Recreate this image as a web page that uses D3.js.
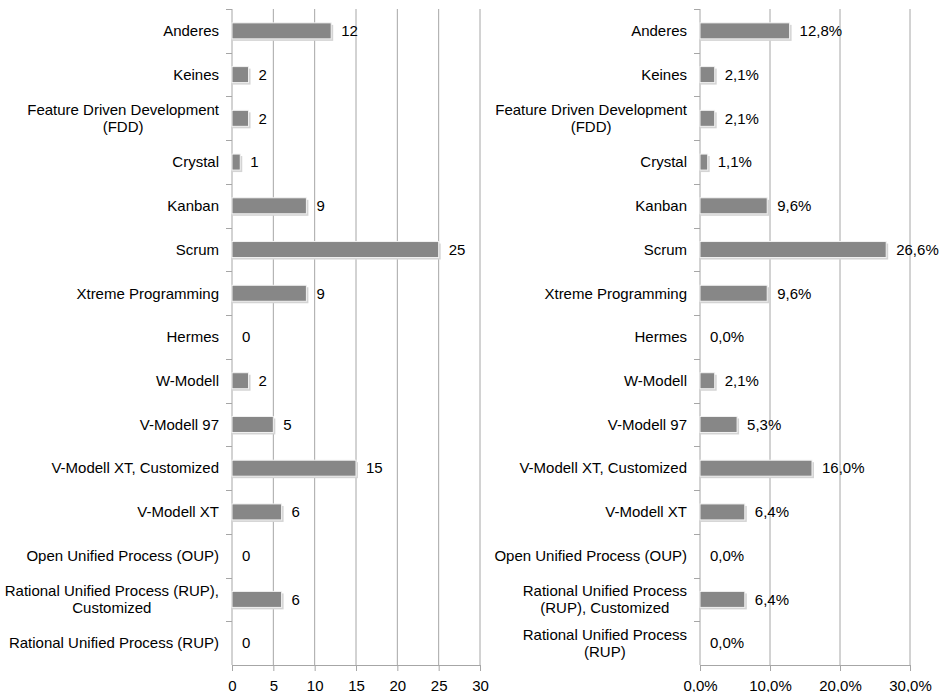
<!DOCTYPE html>
<meta charset="utf-8">
<title>Vorgehensmodelle</title>
<style>
body { margin: 0; background: #fff; }
svg { font-family: "Liberation Sans", Arial, sans-serif; }
.grid line { stroke: #a6a6a6; stroke-width: 1; }
.axis path, .axis line { stroke: #a6a6a6; }
.axis text { font-size: 15px; fill: #000; }
.cat { font-size: 15px; fill: #000; }
.val { font-size: 15px; fill: #000; }
</style>
<script src="https://d3js.org/d3.v7.min.js"></script>
<body>
<script>
// categories, top to bottom
var catsLeft = [
  ["Anderes"], ["Keines"], ["Feature Driven Development", "(FDD)"], ["Crystal"],
  ["Kanban"], ["Scrum"], ["Xtreme Programming"], ["Hermes"], ["W-Modell"],
  ["V-Modell 97"], ["V-Modell XT, Customized"], ["V-Modell XT"],
  ["Open Unified Process (OUP)"], ["Rational Unified Process (RUP),", "Customized"],
  ["Rational Unified Process (RUP)"]
];
var catsRight = [
  ["Anderes"], ["Keines"], ["Feature Driven Development", "(FDD)"], ["Crystal"],
  ["Kanban"], ["Scrum"], ["Xtreme Programming"], ["Hermes"], ["W-Modell"],
  ["V-Modell 97"], ["V-Modell XT, Customized"], ["V-Modell XT"],
  ["Open Unified Process (OUP)"], ["Rational Unified Process", "(RUP), Customized"],
  ["Rational Unified Process", "(RUP)"]
];
var counts = [12, 2, 2, 1, 9, 25, 9, 0, 2, 5, 15, 6, 0, 6, 0];
var percents = [12.8, 2.1, 2.1, 1.1, 9.6, 26.6, 9.6, 0.0, 2.1, 5.3, 16.0, 6.4, 0.0, 6.4, 0.0];
var countTicks = [0, 5, 10, 15, 20, 25, 30];
var percentTicks = [0, 10, 20, 30];

var width = 944, height = 692;
var svg = d3.select("body").append("svg")
    .attr("width", width)
    .attr("height", height);

var plotTop = 9, plotBottom = 665;
var fmtPct = function(v) { return v.toFixed(1).replace(".", ",") + "%"; };
var fmtNum = function(v) { return String(v); };

function drawPanel(x0, x1, cats, values, ticks, maxV, labelFmt) {
  var g = svg.append("g");
  var x = d3.scaleLinear().domain([0, maxV]).range([x0, x1]);
  var y = d3.scaleBand().domain(d3.range(cats.length)).range([plotTop, plotBottom]);

  // vertical grid lines
  g.append("g").attr("class", "grid")
    .selectAll("line").data(ticks.slice(1)).enter().append("line")
      .attr("x1", function(d) { return x(d); })
      .attr("x2", function(d) { return x(d); })
      .attr("y1", plotTop).attr("y2", plotBottom);

  // x axis
  var xa = g.append("g").attr("class", "axis")
    .attr("transform", "translate(0," + plotBottom + ")")
    .call(d3.axisBottom(x).tickValues(ticks).tickSize(6).tickSizeOuter(0).tickFormat(labelFmt));
  xa.selectAll("text").attr("dy", "1.1em");

  // y axis line + ticks at row boundaries
  g.append("line").attr("x1", x0).attr("x2", x0).attr("y1", plotTop).attr("y2", plotBottom)
    .attr("stroke", "#a6a6a6");
  g.selectAll("line.ytick").data(d3.range(cats.length)).enter().append("line")
    .attr("class", "ytick")
    .attr("x1", x0 - 6).attr("x2", x0)
    .attr("y1", function(d) { return Math.round(y(d)) + 0.5; })
    .attr("y2", function(d) { return Math.round(y(d)) + 0.5; })
    .attr("stroke", "#a6a6a6");

  var bh = 16;
  // bar shadows
  g.selectAll("rect.shadow").data(values).enter().append("rect")
    .attr("class", "shadow")
    .attr("x", x0 + 1)
    .attr("y", function(d, i) { return y(i) + y.bandwidth() / 2 - bh / 2 + 2; })
    .attr("width", function(d) { return d > 0 ? x(d) - x0 + 1 : 0; })
    .attr("height", bh)
    .attr("fill", "#d4d4d4");
  // bars
  g.selectAll("rect.bar").data(values).enter().append("rect")
    .attr("class", "bar")
    .attr("x", x0)
    .attr("y", function(d, i) { return y(i) + y.bandwidth() / 2 - bh / 2; })
    .attr("width", function(d) { return d > 0 ? x(d) - x0 : 0; })
    .attr("height", bh)
    .attr("fill", "#878787")
    .attr("stroke", "#f2f2f2")
    .attr("stroke-width", 1);

  // value labels
  g.selectAll("text.val").data(values).enter().append("text")
    .attr("class", "val")
    .attr("x", function(d) { return x(d) + 10; })
    .attr("y", function(d, i) { return y(i) + y.bandwidth() / 2; })
    .attr("dy", "0.35em")
    .text(function(d) { return labelFmt(d); });

  // category labels
  var lab = g.selectAll("text.cat").data(cats).enter().append("text")
    .attr("class", "cat")
    .attr("text-anchor", "middle")
    .attr("y", function(d, i) { return y(i) + y.bandwidth() / 2; });
  lab.each(function(d) {
    var t = d3.select(this);
    var n = d.length;
    d.forEach(function(line, k) {
      t.append("tspan").text(line)
        .attr("dy", k === 0 ? (0.35 - (n - 1) * 0.55) + "em" : "1.1em");
    });
    var maxW = 0;
    t.selectAll("tspan").each(function() { maxW = Math.max(maxW, this.getComputedTextLength()); });
    var cx = x0 - 13 - maxW / 2;
    t.selectAll("tspan").attr("x", cx);
  });
}

drawPanel(232, 480, catsLeft, counts, countTicks, 30, fmtNum);
drawPanel(700, 910, catsRight, percents, percentTicks, 30, fmtPct);
</script>
